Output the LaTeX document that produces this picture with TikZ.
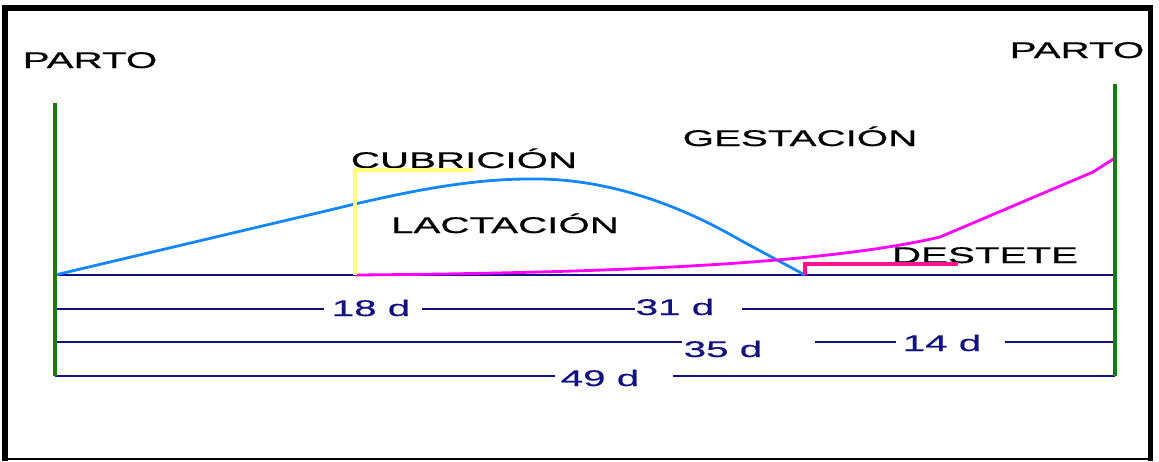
\documentclass[tikz,border=0pt]{standalone}
\usepackage{fontspec}
\setmainfont[FakeStretch=1.78,FakeBold=0.6]{Liberation Sans}
\usetikzlibrary{calc}
\definecolor{navyd}{RGB}{18,18,128}
\definecolor{milkblue}{RGB}{20,135,255}
\definecolor{partogreen}{RGB}{12,128,12}
\definecolor{gestmag}{RGB}{255,0,255}
\definecolor{coveryel}{RGB}{255,255,120}
\definecolor{weanpink}{RGB}{255,20,140}

\begin{document}
\begin{tikzpicture}[x=0.02cm,y=-0.02cm,
stage/.style={font=\fontsize{12.9}{15}\selectfont,anchor=base,inner sep=0pt},
days/.style={stage,text=navyd},
ruler/.style={draw=navyd,line width=1.5pt},
partoline/.style={draw=partogreen,line width=2.2pt},
curve/.style={line width=1.6pt,line join=round}]
\useasboundingbox (0,0) rectangle (1159,461);
% frame
\fill (2,5) rectangle (8,461);
\fill (2,5) rectangle (1153,11);
\fill (1148,5) rectangle (1153,461);
\fill (2,458) rectangle (1153,460);
% row ends
\coordinate (r1l) at (55,275); \coordinate (r1r) at (1115,275);
\coordinate (r2l) at (55,309); \coordinate (r2r) at (1115,309);
\coordinate (r3l) at (55,342); \coordinate (r3r) at (1115,342);
\coordinate (r4l) at (55,376); \coordinate (r4r) at (1115,376);
\coordinate (mate) at (355,275);
\coordinate (wean) at (805,275);
% texts
\node[stage] (parto1) at (90,68) {PARTO};
\node[stage] (parto2) at (1077,58) {PARTO};
\node[stage] (cub) at (464,168) {CUBRICIÓN};
\node[stage] (gest) at (800,146) {GESTACIÓN};
\node[stage] (lact) at (505,233) {LACTACIÓN};
\node[stage] (dest) at (985,263) {DESTETE};
\node[days] (d18) at (371,316) {18 d};
\node[days] (d31) at (675,315) {31 d};
\node[days] (d35) at (723,357) {35 d};
\node[days] (d14) at (942,351) {14 d};
\node[days] (d49) at (600,386) {49 d};
% day lines
\draw[ruler] (r1l) -- (r1r);
\draw[ruler] (r2l) -- ($(d18.west |- r2l)+(-7,0)$);
\draw[ruler] ($(d18.east |- r2l)+(11,0)$) -- (d31.west |- r2l);
\draw[ruler] ($(d31.east |- r2l)+(27,0)$) -- (r2r);
\draw[ruler] (r3l) -- ($(d35.west |- r3l)+(-1,0)$);
\draw[ruler] ($(d35.east |- r3l)+(52,0)$) -- ($(d14.west |- r3l)+(-6,0)$);
\draw[ruler] ($(d14.east |- r3l)+(23,0)$) -- (r3r);
\draw[ruler] (r4l) -- ($(d49.west |- r4l)+(-5,0)$);
\draw[ruler] ($(d49.east |- r4l)+(33,0)$) -- (r4r);
% phases
\draw[curve,milkblue] (r1l) -- (330,210) .. controls (420,188) and (480,178) .. (540,179)
  .. controls (610,180) and (680,205) .. (740,240) -- (wean);
\draw[curve,gestmag] (mate) .. controls (600,273) and (820,265) .. (940,237) -- (1093,172) -- (1115,158);
\draw[coveryel,line width=2pt] (mate) |- (473,170);
\draw[weanpink,line width=2pt] (wean) |- (958,264);
\draw[partoline] (55,103) -- (r4l);
\draw[partoline] (1115,84) -- (r4r);
\end{tikzpicture}
\end{document}
